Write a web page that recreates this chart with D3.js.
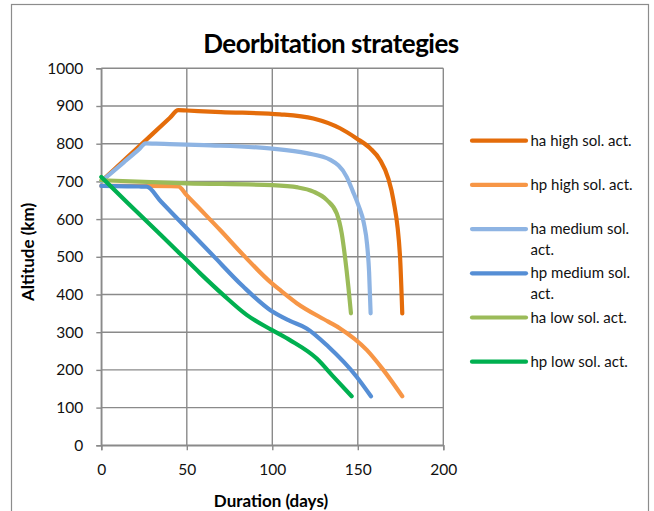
<!DOCTYPE html>
<html>
<head>
<meta charset="utf-8">
<script src="https://cdn.jsdelivr.net/npm/d3@7"></script>
<style>
  html, body { margin: 0; padding: 0; background: #fff; }
  svg { display: block; font-family: Lato, "Open Sans", sans-serif; }
</style>
</head>
<body>
<svg id="chart" width="654" height="511"></svg>
<script>
// Series: duration (days) vs altitude (km) for each deorbit strategy
const seriesNames = [
  "ha high sol. act.", "hp high sol. act.",
  "ha medium sol. act.", "hp medium sol. act.",
  "ha low sol. act.", "hp low sol. act."
];
const legendLines = [
  ["ha high sol. act."], ["hp high sol. act."],
  ["ha medium sol.", "act."], ["hp medium sol.", "act."],
  ["ha low sol. act."], ["hp low sol. act."]
];
const seriesColors = ["#E46C0A", "#F79646", "#8EB4E3", "#558ED5", "#9BBB59", "#00B050"];

const haHighDays = [0, 15, 30, 40, 45, 50, 70, 104.5, 124, 139.6, 149.3, 157.2, 163, 167.8, 170.8, 174.7, 176];
const haHighAlt  = [700, 763, 826, 868, 889, 888, 884, 878, 867, 841, 814, 788, 757, 708, 651, 500, 350];

const hpHighDays = [0, 25, 40, 45, 50, 57, 69.5, 83, 99.6, 105, 114.3, 132.7, 139.6, 155.2, 164.9, 176];
const hpHighAlt  = [688, 688, 687.5, 687, 663, 630, 571, 505, 430, 410, 377, 328, 310, 253, 200, 130];

const haMedDays = [0, 13, 22, 26, 32, 40, 60, 100, 120, 134, 143.5, 147, 150.5, 153.5, 155.5, 156.6, 157.5];
const haMedAlt  = [700, 750, 785, 801, 800, 799, 796, 787, 775, 757, 712, 675, 635, 590, 530, 460, 350];

const hpMedDays = [0, 15, 22, 26.5, 35, 45, 65, 83, 98.7, 110.3, 120.1, 132.7, 149.3, 157.7];
const hpMedAlt  = [688, 687, 686.5, 686, 646, 599, 505, 421, 359, 330, 310, 262, 182, 130];

const haLowDays = [0, 50, 100, 115, 124, 131.8, 137.7, 140.6, 142.5, 144.5, 146];
const haLowAlt  = [703, 695, 690, 684, 673, 651, 615, 562, 500, 420, 350];

const hpLowDays = [0, 15, 30, 45, 57.8, 71.3, 85, 99.6, 110.3, 126, 135.7, 146.4];
const hpLowAlt  = [712, 645, 579, 513, 456, 399, 346, 306, 279, 230, 182, 130];

const xTicks = [0, 50, 100, 150, 200];
const yTicks = [0, 100, 200, 300, 400, 500, 600, 700, 800, 900, 1000];

const seriesDays = [haHighDays, hpHighDays, haMedDays, hpMedDays, haLowDays, hpLowDays];
const seriesAlt  = [haHighAlt, hpHighAlt, haMedAlt, hpMedAlt, haLowAlt, hpLowAlt];

const svg = d3.select("#chart");
const gridColor = "#8a8a8a";

// chart frame
svg.append("rect")
  .attr("x", 11.5).attr("y", 4.5)
  .attr("width", 637).attr("height", 520)
  .attr("fill", "#fff").attr("stroke", "#8c8c8c").attr("stroke-width", 1.2);

const x = d3.scaleLinear().domain([0, 200]).range([101.3, 443.3]);
const y = d3.scaleLinear().domain([0, 1000]).range([445.3, 68.3]);

// gridlines
const grid = svg.append("g");
grid.selectAll("line.h").data(yTicks).join("line")
  .attr("x1", x(0)).attr("x2", x(200))
  .attr("y1", d => y(d)).attr("y2", d => y(d))
  .attr("stroke", gridColor).attr("stroke-width", 1.4);
grid.selectAll("line.v").data(xTicks).join("line")
  .attr("y1", y(0)).attr("y2", y(1000))
  .attr("x1", d => x(d)).attr("x2", d => x(d))
  .attr("stroke", gridColor).attr("stroke-width", 1.4);

// axes
const xAxis = svg.append("g")
  .attr("transform", `translate(0,${y(0)})`)
  .call(d3.axisBottom(x).tickValues(xTicks).tickFormat(d3.format("d")).tickSize(5).tickPadding(14));
const yAxis = svg.append("g")
  .attr("transform", `translate(${x(0)},0)`)
  .call(d3.axisLeft(y).tickValues(yTicks).tickFormat(d3.format("d")).tickSize(5).tickPadding(13));
[xAxis, yAxis].forEach(a => {
  a.select(".domain").attr("stroke", gridColor).attr("stroke-width", 1.4);
  a.selectAll(".tick line").attr("stroke", gridColor).attr("stroke-width", 1.4);
  a.selectAll(".tick text")
    .attr("fill", "#111").style("font-size", "15.5px")
    .style("font-family", "Lato, 'Open Sans', sans-serif");
});

// series lines, lightly smoothed without overshoot
const line = d3.line().curve(d3.curveMonotoneX);
seriesNames.forEach((name, i) => {
  const pts = seriesDays[i].map((d, k) => [x(d), y(seriesAlt[i][k])]);
  svg.append("path")
    .attr("d", line(pts))
    .attr("fill", "none")
    .attr("stroke", seriesColors[i])
    .attr("stroke-width", 4.2)
    .attr("stroke-linecap", "round")
    .attr("stroke-linejoin", "round");
});

// title and axis titles
svg.append("text")
  .attr("x", 331).attr("y", 53)
  .attr("text-anchor", "middle")
  .style("font-size", "26px").style("font-weight", "bold")
  .style("letter-spacing", "-0.5px")
  .attr("fill", "#000")
  .text("Deorbitation strategies");

svg.append("text")
  .attr("x", 271).attr("y", 506.5)
  .attr("text-anchor", "middle")
  .style("font-size", "17px").style("font-weight", "bold")
  .attr("fill", "#000")
  .text("Duration (days)");

svg.append("text")
  .attr("transform", "translate(33.5,252) rotate(-90)")
  .attr("text-anchor", "middle")
  .style("font-size", "17px").style("font-weight", "bold")
  .attr("fill", "#000")
  .text("Altitude (km)");

// legend
const legend = svg.append("g");
const legendTop = 140.7, legendStep = 44.2;
legendLines.forEach((rows, i) => {
  const ly = legendTop + i * legendStep;
  legend.append("line")
    .attr("x1", 472).attr("x2", 526)
    .attr("y1", ly).attr("y2", ly)
    .attr("stroke", seriesColors[i])
    .attr("stroke-width", 4.2)
    .attr("stroke-linecap", "round");
  rows.forEach((t, r) => {
    legend.append("text")
      .attr("x", 530.5).attr("y", ly + 5 + r * 20.5)
      .style("font-size", "15px")
      .attr("fill", "#111")
      .text(t);
  });
});
</script>
</body>
</html>
